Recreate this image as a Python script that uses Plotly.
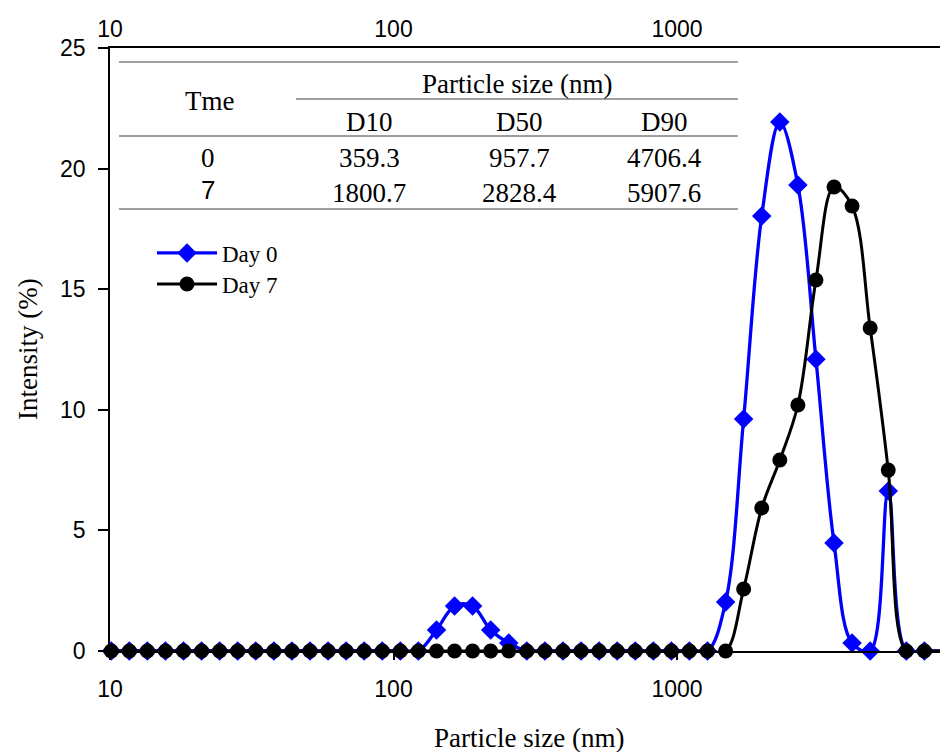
import plotly.graph_objects as go

# ---- data ----
sizes_nm = [10.10, 11.70, 13.54, 15.69, 18.17, 21.04, 24.36, 28.21, 32.67, 37.84,
            43.82, 50.75, 58.77, 68.06, 78.82, 91.28, 105.7, 122.4, 141.8, 164.2,
            190.1, 220.2, 255.0, 295.3, 342.0, 396.1, 458.7, 531.2, 615.1, 712.4,
            825.0, 955.4, 1106, 1281, 1484, 1718, 1990, 2305, 2669, 3091,
            3580, 4145, 4801, 5560, 6439, 7456, 8635, 10000]
day0 = [0, 0, 0, 0, 0, 0, 0, 0, 0, 0,
        0, 0, 0, 0, 0, 0, 0, 0, 0.87, 1.87,
        1.87, 0.87, 0.33, 0, 0, 0, 0, 0, 0, 0,
        0, 0, 0, 0, 2.03, 9.62, 18.03, 21.93, 19.32, 12.1,
        4.48, 0.33, 0, 6.63, 0, 0, 0, 0]
day7 = [0, 0, 0, 0, 0, 0, 0, 0, 0, 0,
        0, 0, 0, 0, 0, 0, 0, 0, 0, 0,
        0, 0, 0, 0, 0, 0, 0, 0, 0, 0,
        0, 0, 0, 0, 0, 2.57, 5.93, 7.92, 10.2, 15.38,
        19.24, 18.45, 13.39, 7.5, 0, 0, 0, 0]
series_names = ["Day 0", "Day 7"]

table_time = ["0", "7"]
table_cols = ["D10", "D50", "D90"]
table_vals = [["359.3", "957.7", "4706.4"],
              ["1800.7", "2828.4", "5907.6"]]

x_ticks = [10, 100, 1000]
y_ticks = [0, 5, 10, 15, 20, 25]

# ---- layout geometry ----
W, H = 940, 752
L, R, T, B = 110, 940, 48, 651
SERIF = "Liberation Serif, Times New Roman, serif"
SANS = "Liberation Sans, Arial, sans-serif"


def px(x):
    return (x - L) / (R - L)


def py(y):
    return (B - y) / (B - T)


fig = go.Figure()
fig.add_trace(go.Scatter(
    x=sizes_nm, y=day0, name=series_names[0], mode="lines+markers",
    line=dict(color="#0000FF", width=3.3, shape="spline", smoothing=1.0),
    marker=dict(symbol="diamond", size=15, color="#0000FF"),
    cliponaxis=False, legend="legend"))
fig.add_trace(go.Scatter(
    x=sizes_nm, y=day7, name=series_names[1], mode="lines+markers",
    line=dict(color="#000000", width=3, shape="spline", smoothing=1.0),
    marker=dict(symbol="circle", size=15, color="#000000"),
    cliponaxis=False, legend="legend2"))
# invisible trace for the top axis
fig.add_trace(go.Scatter(x=[sizes_nm[0]], y=[0], xaxis="x2", mode="markers",
                         marker=dict(opacity=0), showlegend=False, hoverinfo="skip"))

xr = [1, 1 + (R - L) / 283.5]
leg_common = dict(xanchor="left", yanchor="middle",
                  font=dict(family=SERIF, size=23, color="black"),
                  bgcolor="rgba(0,0,0,0)", itemwidth=60)

fig.update_layout(
    width=W, height=H,
    margin=dict(l=L, r=W - R, t=T, b=H - B),
    paper_bgcolor="white", plot_bgcolor="white",
    showlegend=True,
    legend=dict(x=px(152), y=py(253), **leg_common),
    legend2=dict(x=px(152), y=py(284), **leg_common),
    xaxis=dict(type="log", range=xr, tickvals=x_ticks, ticktext=[str(v) for v in x_ticks],
               showline=True, linecolor="black", linewidth=1.5, mirror=False,
               ticks="outside", ticklen=7, tickcolor="black", tickwidth=1.5,
               ticklabelstandoff=10,
               tickfont=dict(family=SANS, size=23, color="black"),
               showgrid=False, zeroline=False),
    xaxis2=dict(type="log", range=xr, overlaying="x", side="top",
                tickvals=x_ticks, ticktext=[str(v) for v in x_ticks],
                showline=True, linecolor="black", linewidth=1.5,
                ticks="", ticklabelstandoff=0,
                tickfont=dict(family=SANS, size=23, color="black"),
                showgrid=False, zeroline=False),
    yaxis=dict(range=[0, 25], tickvals=y_ticks,
               showline=True, linecolor="black", linewidth=1.5,
               ticks="outside", ticklen=10, tickcolor="black", tickwidth=1.5,
               ticklabelstandoff=8,
               tickfont=dict(family=SANS, size=23, color="black"),
               showgrid=False, zeroline=False),
)


def label(text, x, y, font, angle=0):
    return dict(text=text, x=px(x), y=py(y), xref="paper", yref="paper",
                xanchor="center", yanchor="middle", showarrow=False,
                textangle=angle, font=font)


ann = []
title_font = dict(family=SERIF, size=27, color="black")
ann.append(label("Particle size (nm)", 529, 738, title_font))
ann.append(label("Intensity (%)", 28, 349, title_font, -90))

# table text
tf = dict(family=SERIF, size=27, color="black")
ann.append(label("Tme", 209, 101, tf))
ann.append(label("Particle size (nm)", 517, 84, tf))
col_x = [369, 519, 664]
for cx, c in zip(col_x, table_cols):
    ann.append(label(c, cx, 122, tf))
row_y = [158, 193]
for ry, t, vals in zip(row_y, table_time, table_vals):
    if t == "7":
        ann.append(label(t, 208, 190, dict(family=SANS, size=26, color="black")))
    else:
        ann.append(label(t, 208, ry, tf))
    for cx, v in zip(col_x, vals):
        ann.append(label(v, cx, ry, tf))
fig.update_layout(annotations=ann)

shapes = []
lc = dict(color="#404040", width=1.2)
for (x0, x1, y) in [(119, 738, 62), (296, 738, 99), (119, 738, 136), (119, 738, 209)]:
    shapes.append(dict(type="line", xref="paper", yref="paper",
                       x0=px(x0), x1=px(x1), y0=py(y), y1=py(y), line=lc))
fig.update_layout(shapes=shapes)

fig.write_html("out.html")
